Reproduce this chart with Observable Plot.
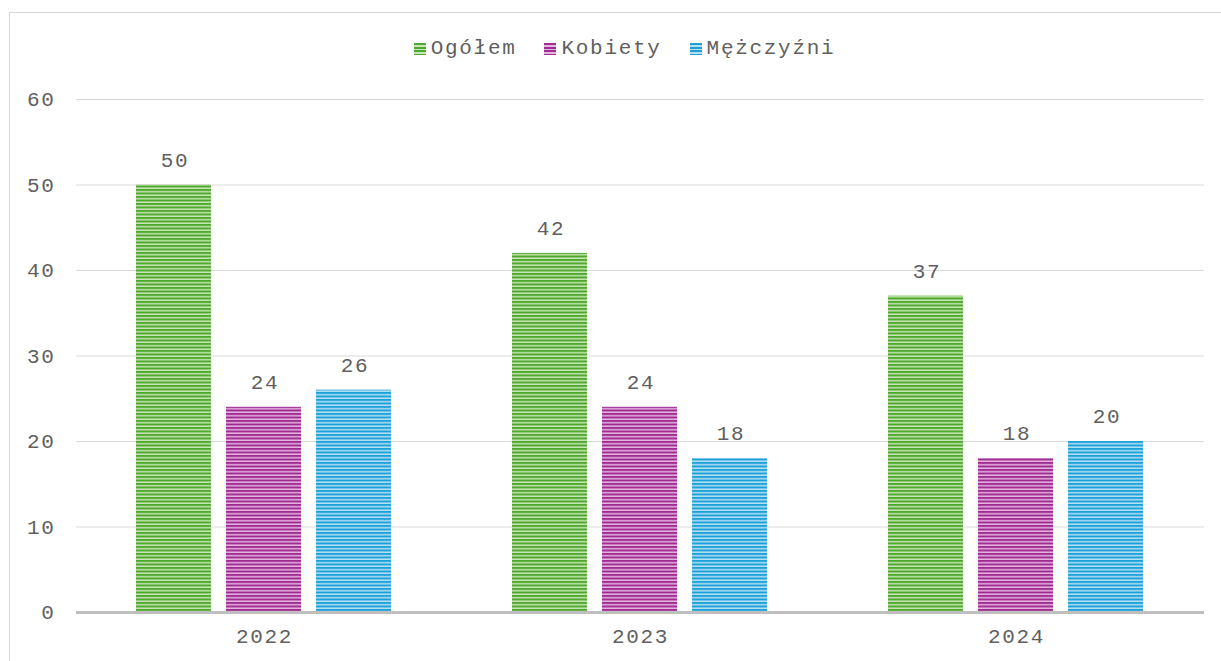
<!DOCTYPE html>
<html>
<head>
<meta charset="utf-8">
<script src="https://cdn.jsdelivr.net/npm/d3@7"></script>
<script src="https://cdn.jsdelivr.net/npm/@observablehq/plot@0.6"></script>
<style>
  html, body { margin: 0; padding: 0; background: #fff; overflow: hidden; }
  #wrap { position: relative; width: 1221px; height: 661px; }
  #frame { position: absolute; left: 9px; top: 12px; width: 1300px; height: 700px; border: 1.5px solid #d9d9d9; box-sizing: border-box; }
  #legend { position: absolute; top: 37px; left: 0; width: 1221px; display: flex; justify-content: center; gap: 28px; font-family: "Liberation Mono", monospace; font-size: 21px; letter-spacing: 1.7px; color: #5f5f5f; padding-left: 28px; box-sizing: border-box; }
  #legend span.item { display: flex; align-items: center; gap: 5px; }
  #legend span.sw { display: inline-block; width: 12px; height: 12px; }
  #chart { position: absolute; left: 0; top: 0; }
</style>
</head>
<body>
<div id="wrap">
  <div id="frame"></div>
  <div id="chart"></div>
  <div id="legend"></div>
</div>
<script>
const years = ["2022", "2023", "2024"];
const series = ["Ogółem", "Kobiety", "Mężczyźni"];
const ogolem = [50, 42, 37];
const kobiety = [24, 24, 18];
const mezczyzni = [26, 18, 20];
const yTicks = [0, 10, 20, 30, 40, 50, 60];

const colorsDark = ["#4ea72e", "#a02b93", "#1fa1d8"];
const colorsLight = ["#c8e6b5", "#e4b6de", "#b4e0f4"];
const patternIds = ["pg", "pk", "pm"];

const seriesValues = [ogolem, kobiety, mezczyzni];
const data = years.flatMap((year, i) =>
  series.map((s, j) => ({ year, series: s, value: seriesValues[j][i] }))
);

const plot = Plot.plot({
  width: 1221,
  height: 661,
  marginLeft: 76,
  marginRight: 17,
  marginTop: 99,
  marginBottom: 49,
  style: { fontFamily: "Liberation Mono, monospace", fontSize: "21px", color: "#5f5f5f", background: "transparent", letterSpacing: "1.7px" },
  fx: { domain: years, padding: 0, label: null, axis: "bottom", tickSize: 0, tickPadding: 16 },
  x: { domain: series, paddingInner: 0.166, paddingOuter: 0.67, axis: null },
  y: { domain: [0, 60], ticks: yTicks, tickSize: 0, tickPadding: 21, label: null },
  color: { domain: series, range: patternIds.map(id => `url(#${id})`) },
  marks: [
    Plot.ruleY(yTicks.filter(d => d > 0), { stroke: "#d9d9d9", strokeWidth: 1.2 }),
    Plot.barY(data, { fx: "year", x: "series", y: "value", fill: "series" }),
    Plot.ruleY([0], { stroke: "#bfbfbf", strokeWidth: 3 }),
    Plot.text(data, { fx: "year", x: "series", y: "value", text: d => String(d.value), dy: -25, dx: 1, fill: "#5f5f5f" })
  ]
});

// stripe patterns
const ns = "http://www.w3.org/2000/svg";
const defs = document.createElementNS(ns, "defs");
patternIds.forEach((id, i) => {
  const p = document.createElementNS(ns, "pattern");
  p.setAttribute("id", id);
  p.setAttribute("patternUnits", "userSpaceOnUse");
  p.setAttribute("width", "10");
  p.setAttribute("height", "3.5");
  const r1 = document.createElementNS(ns, "rect");
  r1.setAttribute("width", "10"); r1.setAttribute("height", "3.5"); r1.setAttribute("fill", colorsLight[i]);
  const r2 = document.createElementNS(ns, "rect");
  r2.setAttribute("width", "10"); r2.setAttribute("height", "2"); r2.setAttribute("fill", colorsDark[i]);
  p.appendChild(r1); p.appendChild(r2);
  defs.appendChild(p);
});
plot.insertBefore(defs, plot.firstChild);
document.getElementById("chart").appendChild(plot);

// legend
const legend = document.getElementById("legend");
series.forEach((s, i) => {
  const item = document.createElement("span");
  item.className = "item";
  const sw = document.createElement("span");
  sw.className = "sw";
  sw.style.background = `repeating-linear-gradient(to bottom, ${colorsDark[i]} 0px, ${colorsDark[i]} 2px, ${colorsLight[i]} 2px, ${colorsLight[i]} 3.5px)`;
  const t = document.createElement("span");
  t.textContent = s;
  item.appendChild(sw); item.appendChild(t);
  legend.appendChild(item);
});
</script>
</body>
</html>
